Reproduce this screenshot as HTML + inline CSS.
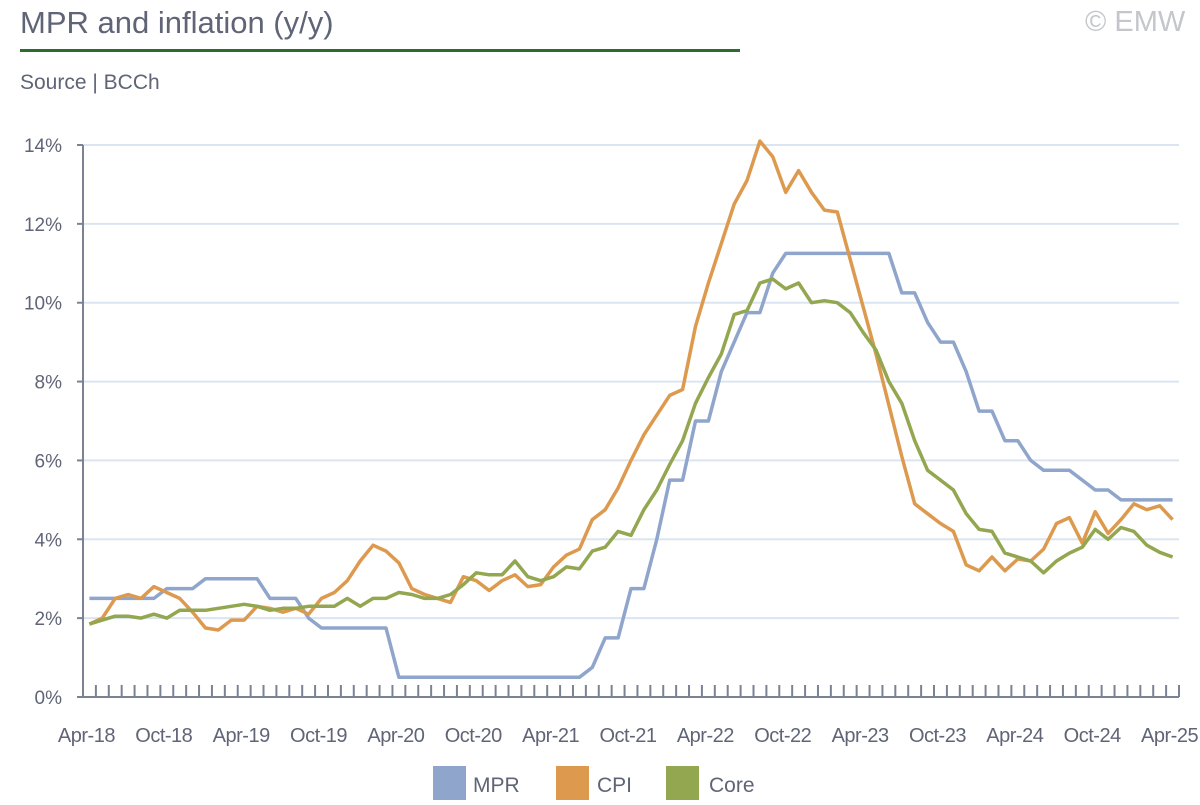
<!DOCTYPE html>
<html><head><meta charset="utf-8"><style>
body{margin:0;background:#fff;font-family:"Liberation Sans",sans-serif;}
svg text{font-family:"Liberation Sans",sans-serif;fill:#5f6577;}
</style></head><body>
<svg id="c" width="1200" height="800">
<text x="20" y="33" font-size="31">MPR and inflation (y/y)</text>
<rect x="20" y="49" width="720" height="3" fill="#2e6b2e"/>
<text x="1085" y="31" font-size="29" style="fill:#c4c6cc">© EMW</text>
<text x="20" y="89" font-size="21">Source | BCCh</text>
<g id="grid"></g><g id="axes"></g><g id="series"></g>
<g>
<rect x="433" y="766" width="33" height="34" fill="#8fa5cb"/>
<text x="473" y="792" font-size="21">MPR</text>
<rect x="556" y="766" width="33" height="34" fill="#dd9a4f"/>
<text x="597" y="792" font-size="21">CPI</text>
<rect x="666" y="766" width="33" height="34" fill="#93a650"/>
<text x="709" y="792" font-size="21">Core</text>
</g>
</svg>
<script>
const yTicks=[0,2,4,6,8,10,12,14];
const xLabels=["Apr-18","Oct-18","Apr-19","Oct-19","Apr-20","Oct-20","Apr-21","Oct-21","Apr-22","Oct-22","Apr-23","Oct-23","Apr-24","Oct-24","Apr-25"];
const mpr=[2.5,2.5,2.5,2.5,2.5,2.5,2.75,2.75,2.75,3,
3,3,3,3,2.5,2.5,2.5,2,1.75,1.75,
1.75,1.75,1.75,1.75,0.5,0.5,0.5,0.5,0.5,0.5,
0.5,0.5,0.5,0.5,0.5,0.5,0.5,0.5,0.5,0.75,
1.5,1.5,2.75,2.75,4,5.5,5.5,7,7,8.25,
9,9.75,9.75,10.75,11.25,11.25,11.25,11.25,11.25,11.25,
11.25,11.25,11.25,10.25,10.25,9.5,9,9,8.25,7.25,
7.25,6.5,6.5,6,5.75,5.75,5.75,5.5,5.25,5.25,
5,5,5,5,5];
const cpi=[1.85,2.0,2.5,2.6,2.5,2.8,2.65,2.5,2.15,1.75,
1.7,1.95,1.95,2.3,2.25,2.15,2.25,2.1,2.5,2.65,
2.95,3.45,3.85,3.7,3.4,2.75,2.6,2.5,2.4,3.05,
2.95,2.7,2.95,3.1,2.8,2.85,3.3,3.6,3.75,4.5,
4.75,5.3,6.0,6.65,7.15,7.65,7.8,9.4,10.5,11.5,
12.5,13.1,14.1,13.7,12.8,13.35,12.8,12.35,12.3,11.1,
9.9,8.7,7.4,6.1,4.9,4.65,4.4,4.2,3.35,3.2,
3.55,3.2,3.5,3.45,3.75,4.4,4.55,3.9,4.7,4.15,
4.5,4.9,4.75,4.85,4.5];
const core=[1.85,1.95,2.05,2.05,2.0,2.1,2.0,2.2,2.2,2.2,
2.25,2.3,2.35,2.3,2.2,2.25,2.25,2.3,2.3,2.3,
2.5,2.3,2.5,2.5,2.65,2.6,2.5,2.5,2.6,2.85,
3.15,3.1,3.1,3.45,3.05,2.95,3.05,3.3,3.25,3.7,
3.8,4.2,4.1,4.75,5.25,5.9,6.5,7.45,8.1,8.7,
9.7,9.8,10.5,10.6,10.35,10.5,10.0,10.05,10.0,9.75,
9.25,8.8,8.0,7.45,6.5,5.75,5.5,5.25,4.65,4.25,
4.2,3.65,3.55,3.45,3.15,3.45,3.65,3.8,4.25,4.0,
4.3,4.2,3.85,3.67,3.55];
const NS="http://www.w3.org/2000/svg";
const X0=83,X1=1179,Y0=697,YT=145,N=85,STEP=(X1-X0)/N;
const x=i=>X0+STEP*(i+0.5);
const y=v=>Y0-(Y0-YT)*v/14;
function mk(tag,parent){const e=document.createElementNS(NS,tag);parent.appendChild(e);return e;}
const grid=document.getElementById('grid'),axes=document.getElementById('axes'),ser=document.getElementById('series');
yTicks.forEach(t=>{
  if(t>0){const l=mk('line',grid);
  
  
  l.setAttribute('x1',X0);l.setAttribute('x2',X1);l.setAttribute('y1',y(t));l.setAttribute('y2',y(t));l.setAttribute('stroke','#dbe5f1');l.setAttribute('stroke-width','2');}
  const tk=mk('line',axes);
  
  
  tk.setAttribute('x1',X0-6);tk.setAttribute('x2',X0);tk.setAttribute('y1',y(t));tk.setAttribute('y2',y(t));tk.setAttribute('stroke','#7a8296');tk.setAttribute('stroke-width','2');
  const tx=mk('text',axes);
  
  
  tx.setAttribute('x',62);tx.setAttribute('y',y(t)+7);tx.setAttribute('text-anchor','end');tx.setAttribute('font-size','19');tx.textContent=t+'%';
});
for(let i=0;i<=N;i++){const tk=mk('line',axes);
  
  
  const xx=X0+STEP*i;tk.setAttribute('x1',xx);tk.setAttribute('x2',xx);tk.setAttribute('y1',Y0-12);tk.setAttribute('y2',Y0);tk.setAttribute('stroke','#7a8296');tk.setAttribute('stroke-width','2');}
const ax=mk('path',axes);


ax.setAttribute('d',`M${X0} ${YT}V${Y0}H${X1}`);ax.setAttribute('stroke','#7a8296');ax.setAttribute('stroke-width','2');ax.setAttribute('fill','none');
xLabels.forEach((lb,k)=>{const tx=mk('text',axes);
  
  
  tx.setAttribute('x',x(k*6)-3);tx.setAttribute('y',742);tx.setAttribute('text-anchor','middle');tx.setAttribute('font-size','20');tx.setAttribute('letter-spacing','-0.5');tx.textContent=lb;});
[[mpr,'#8fa5cb','mpr-line'],[cpi,'#dd9a4f','cpi-line'],[core,'#93a650','core-line']].forEach(([d,c,n])=>{
  const p=mk('path',ser);
  
  
  p.setAttribute('d',d.map((v,i)=>(i?'L':'M')+x(i).toFixed(1)+' '+y(v).toFixed(1)).join(''));
  p.setAttribute('stroke',c);p.setAttribute('stroke-width','3.5');p.setAttribute('fill','none');p.setAttribute('stroke-linejoin','round');
});
</script>
</body></html>
